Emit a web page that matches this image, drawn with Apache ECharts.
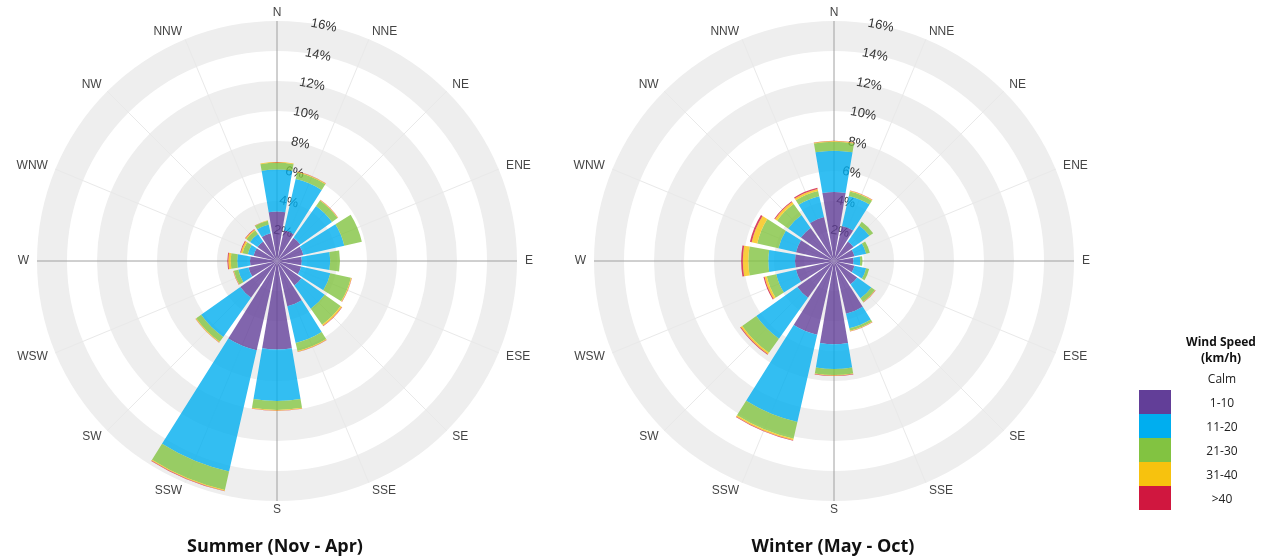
<!DOCTYPE html>
<html>
<head>
<meta charset="utf-8">
<script src="https://cdn.jsdelivr.net/npm/echarts@6/dist/echarts.min.js"></script>
<style>
  html, body { margin: 0; padding: 0; background: #fff; }
  #chart { width: 1261px; height: 557px; }
</style>
</head>
<body>
<div id="chart"></div>
<script>
const directions = ['N', 'NNE', 'NE', 'ENE', 'E', 'ESE', 'SE', 'SSE',
  'S', 'SSW', 'SW', 'WSW', 'W', 'WNW', 'NW', 'NNW'];
const speedBins = ['1-10', '11-20', '21-30', '31-40', '>40'];
const binColors = ['#623e98', '#00aeef', '#82c341', '#f7c20e', '#d0173f'];

// Summer (Nov - Apr), % of time, one value per direction
const summer1to10 = [3.3, 2.1, 1.9, 1.8, 1.65, 1.65, 2.0, 3.1, 5.9, 6.1, 3.0, 1.95, 1.8, 1.6, 1.6, 1.9];
const summer11to20 = [2.8, 3.5, 2.6, 2.8, 1.9, 2.0, 1.9, 2.5, 3.43, 8.3, 3.2, 0.7, 0.85, 0.4, 0.6, 0.6];
const summer21to30 = [0.45, 0.45, 0.45, 1.2, 0.65, 1.4, 1.3, 0.55, 0.6, 1.25, 0.4, 0.3, 0.44, 0.35, 0.3, 0.25];
const summer31to40 = [0.05, 0.05, 0.03, 0, 0, 0.05, 0.1, 0.05, 0.05, 0.07, 0.05, 0.03, 0.16, 0.12, 0.08, 0.03];
const summerOver40 = [0, 0.02, 0.02, 0, 0, 0.02, 0.03, 0.02, 0.02, 0.03, 0.02, 0.02, 0.06, 0.05, 0.04, 0.01];

// Winter (May - Oct)
const winter1to10 = [4.6, 2.4, 1.6, 1.4, 1.3, 1.4, 1.9, 3.6, 5.55, 5.05, 3.0, 2.6, 2.6, 2.6, 2.7, 3.0];
const winter11to20 = [2.75, 2.05, 1.3, 0.8, 0.45, 0.8, 1.15, 1.0, 1.65, 5.95, 3.35, 1.35, 1.78, 1.2, 1.05, 1.43];
const winter21to30 = [0.6, 0.3, 0.3, 0.25, 0.15, 0.2, 0.3, 0.17, 0.4, 1.15, 1.15, 0.65, 1.33, 1.45, 0.9, 0.35];
const winter31to40 = [0.05, 0.05, 0, 0, 0, 0, 0.03, 0.03, 0.05, 0.1, 0.12, 0.15, 0.37, 0.38, 0.17, 0.15];
const winterOver40 = [0.02, 0.02, 0, 0, 0, 0, 0.02, 0.02, 0.02, 0.04, 0.05, 0.07, 0.11, 0.12, 0.06, 0.07];

const roses = [
  {
    title: 'Summer (Nov - Apr)',
    center: [277, 261],
    titleX: 275,
    stack: 'summer',
    values: [summer1to10, summer11to20, summer21to30, summer31to40, summerOver40]
  },
  {
    title: 'Winter (May - Oct)',
    center: [834, 261],
    titleX: 833,
    stack: 'winter',
    values: [winter1to10, winter11to20, winter21to30, winter31to40, winterOver40]
  }
];

const roseRadius = 240;
const labelFont = 'Liberation Sans';

const polar = [];
const angleAxis = [];
const radiusAxis = [];
const series = [];
const titles = [];

roses.forEach((rose, i) => {
  // each rose uses two polars: one for the bars, one only to put
  // the % labels on a spoke half way between N and NNE
  const main = i * 2;
  const labels = i * 2 + 1;

  polar.push({ center: rose.center, radius: roseRadius });
  polar.push({ center: rose.center, radius: roseRadius });

  angleAxis.push({
    polarIndex: main,
    type: 'category',
    data: directions,
    boundaryGap: false,
    startAngle: 90,
    clockwise: true,
    axisLine: { show: false },
    axisTick: { show: false },
    axisLabel: {
      margin: 8,
      color: '#444',
      fontFamily: labelFont,
      fontSize: 12,
      // tiny line height keeps every label centred on its anchor
      lineHeight: 1
    },
    splitLine: {
      show: true,
      lineStyle: { color: ['#a0a0a0', '#e9e9e9', '#e9e9e9', '#e9e9e9'], width: 1 }
    }
  });
  angleAxis.push({
    polarIndex: labels,
    type: 'value',
    min: 0,
    max: 360,
    startAngle: 78.75,
    show: false
  });

  radiusAxis.push({
    polarIndex: main,
    type: 'value',
    min: 0,
    max: 16,
    interval: 2,
    axisLine: { show: false },
    axisTick: { show: false },
    axisLabel: { show: false },
    splitLine: { show: false },
    splitArea: { show: true, areaStyle: { color: ['#ffffff', '#eeeeee'] } }
  });
  radiusAxis.push({
    polarIndex: labels,
    type: 'value',
    min: 0,
    max: 16,
    interval: 2,
    axisLine: { show: false },
    axisTick: { show: false },
    splitLine: { show: false },
    splitArea: { show: false },
    axisLabel: {
      formatter: '{value}%',
      showMinLabel: false,
      rotate: -11.25,
      margin: 0,
      align: 'center',
      verticalAlign: 'middle',
      color: '#333',
      fontFamily: labelFont,
      fontSize: 13
    }
  });

  speedBins.forEach((bin, k) => {
    series.push({
      type: 'bar',
      name: bin,
      coordinateSystem: 'polar',
      polarIndex: main,
      stack: rose.stack,
      data: rose.values[k],
      barCategoryGap: '14%',
      silent: true,
      itemStyle: { color: binColors[k], opacity: 0.8 }
    });
  });

  titles.push({
    text: rose.title,
    left: rose.titleX,
    top: 538,
    padding: 0,
    textAlign: 'center',
    textStyle: { fontFamily: 'Open Sans', fontWeight: 'bold', fontSize: 18, color: '#111' }
  });
});

// "Calm" only lives in the legend
series.push({
  type: 'bar',
  name: 'Calm',
  coordinateSystem: 'polar',
  polarIndex: 0,
  stack: 'summer',
  data: []
});

titles.push({
  text: 'Wind Speed\n(km/h)',
  left: 1221,
  top: 335,
  padding: 0,
  textAlign: 'center',
  textStyle: { fontFamily: 'Open Sans', fontWeight: 'bold', fontSize: 12, lineHeight: 16, color: '#111' }
});

const legendData = [{ name: 'Calm', itemStyle: { color: 'rgba(0,0,0,0)', opacity: 1 } }]
  .concat(speedBins.map((bin, k) => ({ name: bin, itemStyle: { color: binColors[k], opacity: 1 } })));

const chart = echarts.init(document.getElementById('chart'));
chart.setOption({
  animation: false,
  backgroundColor: '#fff',
  title: titles,
  polar: polar,
  angleAxis: angleAxis,
  radiusAxis: radiusAxis,
  tooltip: { show: false },
  legend: {
    orient: 'vertical',
    left: 1139,
    top: 366,
    padding: 0,
    itemWidth: 32,
    itemHeight: 24,
    itemGap: 0,
    icon: 'rect',
    selectedMode: false,
    data: legendData,
    formatter: name => '{a|' + name + '}',
    textStyle: {
      rich: {
        a: { width: 92, align: 'center', padding: [4, 0, 0, 0], fontFamily: 'Open Sans', fontSize: 12, color: '#222' }
      }
    }
  },
  series: series
});
</script>
</body>
</html>
